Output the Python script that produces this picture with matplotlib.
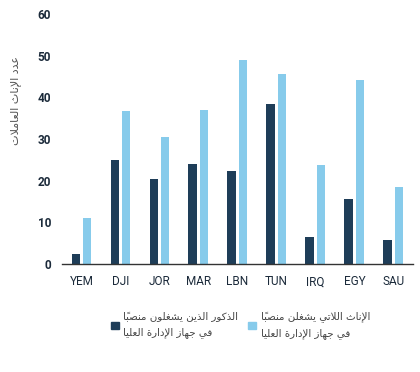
import matplotlib
matplotlib.use("Agg")
import matplotlib.pyplot as plt
import numpy as np
from matplotlib.patches import Patch

categories = ["YEM", "DJI", "JOR", "MAR", "LBN", "TUN", "IRQ", "EGY", "SAU"]
men_values = [2.3, 24.9, 20.3, 24.1, 22.3, 38.3, 6.6, 15.6, 5.7]
women_values = [11.1, 36.8, 30.5, 37.0, 49.0, 45.5, 23.8, 44.2, 18.6]
y_ticks = [0, 10, 20, 30, 40, 50, 60]
men_label = "الذكور الذين يشغلون منصباً\nفي جهاز الإدارة العليا"
women_label = "الإناث اللاتي يشغلن منصباً\nفي جهاز الإدارة العليا"
y_label = "عدد الإناث العاملات"

# --- minimal Arabic shaping (presentation forms) + visual reordering ---
FORMS = {
    'ا': (0xFE8D, 0xFE8E, None, None), 'إ': (0xFE87, 0xFE88, None, None),
    'أ': (0xFE83, 0xFE84, None, None),
    'ب': (0xFE8F, 0xFE90, 0xFE91, 0xFE92), 'ة': (0xFE93, 0xFE94, None, None),
    'ت': (0xFE95, 0xFE96, 0xFE97, 0xFE98), 'ث': (0xFE99, 0xFE9A, 0xFE9B, 0xFE9C),
    'ج': (0xFE9D, 0xFE9E, 0xFE9F, 0xFEA0), 'د': (0xFEA9, 0xFEAA, None, None),
    'ذ': (0xFEAB, 0xFEAC, None, None), 'ر': (0xFEAD, 0xFEAE, None, None),
    'ز': (0xFEAF, 0xFEB0, None, None), 'ش': (0xFEB5, 0xFEB6, 0xFEB7, 0xFEB8),
    'ص': (0xFEB9, 0xFEBA, 0xFEBB, 0xFEBC), 'ع': (0xFEC9, 0xFECA, 0xFECB, 0xFECC),
    'غ': (0xFECD, 0xFECE, 0xFECF, 0xFED0), 'ف': (0xFED1, 0xFED2, 0xFED3, 0xFED4),
    'ك': (0xFED9, 0xFEDA, 0xFEDB, 0xFEDC), 'ل': (0xFEDD, 0xFEDE, 0xFEDF, 0xFEE0),
    'م': (0xFEE1, 0xFEE2, 0xFEE3, 0xFEE4), 'ن': (0xFEE5, 0xFEE6, 0xFEE7, 0xFEE8),
    'ه': (0xFEE9, 0xFEEA, 0xFEEB, 0xFEEC), 'و': (0xFEED, 0xFEEE, None, None),
    'ي': (0xFEF1, 0xFEF2, 0xFEF3, 0xFEF4),
    'LA': (0xFEFB, 0xFEFC, None, None), 'LAI': (0xFEF9, 0xFEFA, None, None),
}
MARKS = set('\u064B\u064C\u064D\u064E\u064F\u0650\u0651\u0652')


def shape_line(line):
    clusters = []
    for ch in line:
        if ch in MARKS and clusters:
            clusters[-1][1].append(ch)
        else:
            clusters.append([ch, []])
    merged = []
    i = 0
    while i < len(clusters):
        c = clusters[i]
        if c[0] == 'ل' and i + 1 < len(clusters) and clusters[i + 1][0] in ('ا', 'إ'):
            key = 'LA' if clusters[i + 1][0] == 'ا' else 'LAI'
            merged.append([key, c[1] + clusters[i + 1][1]])
            i += 2
        else:
            merged.append(c)
            i += 1
    out = []
    n = len(merged)
    for i, (ch, marks) in enumerate(merged):
        if ch not in FORMS:
            out.append(ch + ''.join(marks))
            continue
        iso, fin, ini, med = FORMS[ch]
        prev_join = i > 0 and merged[i - 1][0] in FORMS and FORMS[merged[i - 1][0]][2] is not None
        next_join = ini is not None and i + 1 < n and merged[i + 1][0] in FORMS
        if prev_join and next_join:
            g = med
        elif prev_join:
            g = fin
        elif next_join:
            g = ini
        else:
            g = iso
        out.append(chr(g) + ''.join(marks))
    return ''.join(reversed(out))


def ar(text):
    return '\n'.join(shape_line(l) for l in text.split('\n'))


dark = "#1e3d58"
light = "#87cbeb"
text_dark = "#1b2a3a"

plt.rcParams['font.family'] = ['Roboto', 'DejaVu Sans']

fig = plt.figure(figsize=(4.2, 3.72), dpi=100)
ax = fig.add_axes([0.1476, 0.2903, 0.8354, 0.6721])

x = np.arange(len(categories))
w = 0.22
off = 0.145
ax.bar(x - off, men_values, width=w, color=dark)
ax.bar(x + off, women_values, width=w, color=light)

ax.set_xlim(-0.5, len(categories) - 0.5)
ax.set_ylim(0, 60)
ax.set_yticks(y_ticks)
ax.set_yticklabels([str(t) for t in y_ticks], fontsize=8.5, fontweight='bold', color=text_dark)
ax.set_xticks(x)
ax.set_xticklabels(categories, fontsize=8.5, color=text_dark)
ax.tick_params(axis='y', length=0, pad=8)
ax.tick_params(axis='x', length=0, pad=8)
for s in ['top', 'right', 'left']:
    ax.spines[s].set_visible(False)
ax.spines['bottom'].set_color('#333333')
ax.spines['bottom'].set_linewidth(1.0)

fig.text(0.036, 0.73, ar(y_label), rotation=90, ha='center', va='center',
         fontsize=8, color='#555555', family='DejaVu Sans')

handles = [Patch(color=dark, label=ar(men_label)), Patch(color=light, label=ar(women_label))]
leg = fig.legend(handles=handles, loc='center', bbox_to_anchor=(0.572, 0.126), ncol=2,
                 frameon=False, handlelength=0.8, handleheight=0.8,
                 handletextpad=0.4, columnspacing=1.0,
                 prop={'family': 'DejaVu Sans', 'size': 7.4})
for t in leg.get_texts():
    t.set_color('#444444')
    t.set_linespacing(1.6)

fig.savefig("out.png", dpi=100)
